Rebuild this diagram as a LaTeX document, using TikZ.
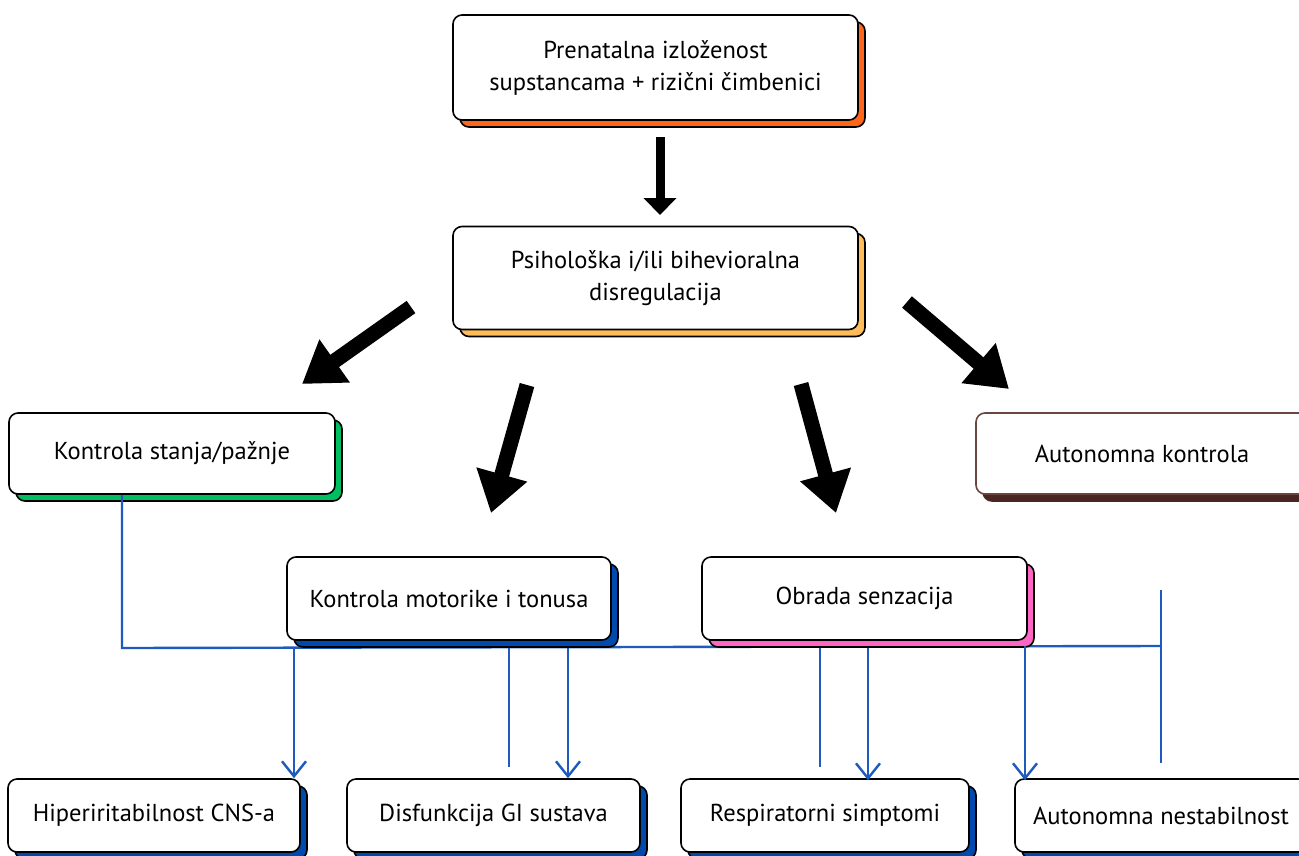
\documentclass[tikz,border=0pt]{standalone}
\usepackage{fontspec}
\setmainfont{PT Sans}
\usetikzlibrary{arrows.meta,shadows}
\definecolor{cOrange}{HTML}{FF661A}
\definecolor{cYellow}{HTML}{FFBD59}
\definecolor{cGreen}{HTML}{00BF63}
\definecolor{cBrown}{HTML}{6B4540}
\definecolor{cBrownD}{HTML}{4A2623}
\definecolor{cBlue}{HTML}{004AAD}
\definecolor{cPink}{HTML}{FF66C4}
\definecolor{cLine}{HTML}{1F5BBF}
\tikzset{
  boxbase/.style={draw=black, line width=1.6pt, fill=white, rounded corners=9pt,
    align=center, inner sep=0pt, font=\fontsize{24.5}{32}\selectfont},
  sh/.style={general shadow={shadow xshift=7pt, shadow yshift=-7pt, fill=#1, draw=black, line width=1.6pt}},
  bigarrow/.style={line width=15pt, -{Triangle[length=40pt,width=50pt]}},
  toparrow/.style={line width=9pt, -{Triangle[length=17pt,width=32pt]}},
  blueline/.style={draw=cLine, line width=2.4pt},
  bluearrow/.style={blueline, -{Straight Barb[length=15pt,width=24pt,line width=2.4pt]}}
}
\begin{document}
\begin{tikzpicture}[x=1pt,y=-1pt]
\useasboundingbox (0,0) rectangle (1299,855);
\fill[white] (0,0) rectangle (1299,855);

% blue connector network (behind boxes)
\coordinate (jL) at (122,648);
\coordinate (jR) at (1161,646);
\coordinate (tR) at (1161,590);
\coordinate (s1) at (294,648);
\coordinate (s2) at (509,648);
\coordinate (s3) at (568,648);
\coordinate (s4) at (820,648);
\coordinate (s5) at (868,648);
\coordinate (s6) at (1025,646);
\coordinate (e2) at (509,767);
\coordinate (e4) at (820,767);
\coordinate (e7) at (1161,763);

% boxes
\node[boxbase, sh=cOrange, minimum width=405pt, minimum height=105pt] (pre) at (655.5,67.5)
  {Prenatalna izloženost\\supstancama + rizični čimbenici};
\node[boxbase, sh=cYellow, minimum width=405pt, minimum height=103pt] (psi) at (655.5,278)
  {Psihološka i/ili bihevioralna\\disregulacija};
\node[boxbase, sh=cGreen, minimum width=326pt, minimum height=81pt] (stanje) at (172,453.5)
  {Kontrola stanja/pažnje};
\node[boxbase, draw=cBrown, general shadow={shadow xshift=7pt, shadow yshift=-7pt, fill=cBrownD, draw=cBrownD, line width=1.6pt},
  minimum width=332pt, minimum height=81pt] (auto) at (1142,453.5) {Autonomna kontrola};

\draw[blueline] (stanje.south -| jL) -- (jL) -- (jR);
\draw[blueline] (tR) -- (e7);
\draw[blueline] (s2) -- (e2);
\draw[blueline] (s4) -- (e4);

\node[boxbase, sh=cBlue, minimum width=324pt, minimum height=83pt] (motor) at (449,598.5)
  {Kontrola motorike i tonusa};
\node[boxbase, sh=cPink, minimum width=325pt, minimum height=83pt] (senz) at (864.5,598.5)
  {Obrada senzacija};

\node[boxbase, sh=cBlue, minimum width=292pt, minimum height=73pt] (cns) at (154,815.5)
  {Hiperiritabilnost CNS-a};
\node[boxbase, sh=cBlue, minimum width=293pt, minimum height=73pt] (gi) at (493.5,815.5)
  {Disfunkcija GI sustava};
\node[boxbase, sh=cBlue, minimum width=288pt, minimum height=73pt] (resp) at (825,815.5)
  {Respiratorni simptomi};
\node[boxbase, sh=cBlue, minimum width=292pt, minimum height=73pt] (nest) at (1161,815.5)
  {Autonomna nestabilnost};

% blue arrows into bottom boxes
\draw[bluearrow] (s1) -- (s1 |- cns.north);
\draw[bluearrow] (s3) -- (s3 |- gi.north);
\draw[bluearrow] (s5) -- ([yshift=-2pt]s5 |- resp.north);
\draw[bluearrow] (s6) -- ([yshift=-2pt]s6 |- nest.north);

% black arrows
\coordinate (a0s) at (660,137);
\coordinate (a0e) at (660,215);
\coordinate (a1s) at (411,307);
\coordinate (a1e) at (302,384);
\coordinate (a2s) at (527,385);
\coordinate (a2e) at (491,513);
\coordinate (a3s) at (801,384);
\coordinate (a3e) at (836,513);
\coordinate (a4s) at (907,302);
\coordinate (a4e) at (1009,389);
\draw[toparrow] (a0s) -- (a0e);
\draw[bigarrow] (a1s) -- (a1e);
\draw[bigarrow] (a2s) -- (a2e);
\draw[bigarrow] (a3s) -- (a3e);
\draw[bigarrow] (a4s) -- (a4e);
\end{tikzpicture}
\end{document}
